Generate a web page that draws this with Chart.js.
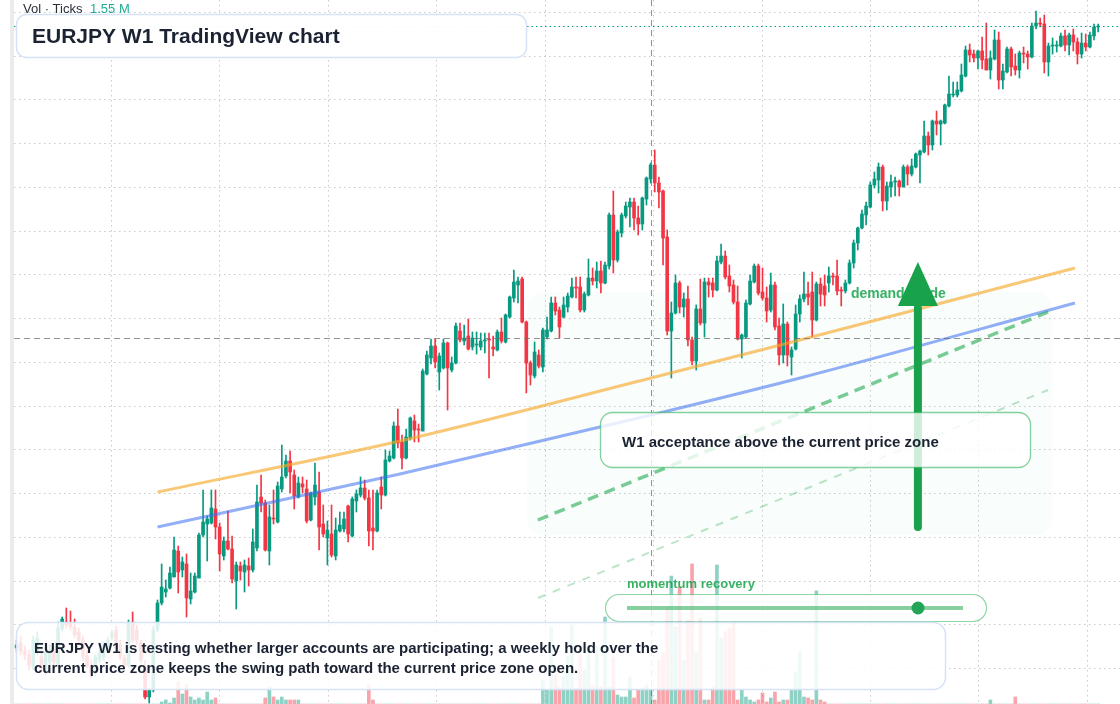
<!DOCTYPE html>
<html>
<head>
<meta charset="utf-8">
<title>EURJPY W1</title>
<script src="https://cdn.jsdelivr.net/npm/chart.js@4.4.1/dist/chart.umd.min.js"></script>
<style>
  html, body { margin: 0; padding: 0; background: #fff; }
  #wrap { width: 1120px; height: 704px; position: relative; }
</style>
</head>
<body>
<div id="wrap"><canvas id="chart" width="1120" height="704"></canvas></div>
<script>
// EURJPY weekly candles, one entry per week
const opens = [
  135.2,135.7,134.9,134.5,133.3,134.8,134.3,133.0,133.8,134.8,
  133.5,137.1,137.8,137.7,137.3,136.8,136.0,134.4,133.4,132.7,
  134.0,134.3,135.3,136.3,137.0,135.5,134.2,133.5,137.8,137.0,
  135.7,133.3,130.3,131.0,137.0,139.7,140.8,141.2,142.3,144.9,
  143.0,143.6,140.1,140.8,142.2,146.5,147.6,147.7,149.1,147.3,
  144.4,145.9,145.1,141.9,143.4,142.8,143.4,143.0,145.2,150.3,
  149.7,144.9,148.2,147.8,151.1,152.4,153.9,152.5,150.3,151.6,
  151.1,148.0,150.3,150.8,147.6,146.2,146.6,144.4,146.9,147.1,
  149.4,146.4,149.9,150.5,151.2,150.2,147.2,146.9,151.3,150.5,
  153.9,154.2,157.4,155.8,154.2,156.2,157.9,157.1,156.9,162.6,
  164.2,165.4,162.8,163.2,165.7,163.0,163.7,166.9,165.9,166.4,
  165.3,165.5,165.3,165.9,166.1,165.3,165.0,166.8,165.8,168.3,
  170.2,171.5,172.1,167.8,163.7,162.4,164.5,163.3,166.3,166.9,
  169.7,169.0,168.3,169.3,170.3,171.3,171.3,169.0,170.5,172.2,
  171.9,172.9,171.7,173.4,178.5,174.0,176.7,178.4,179.3,179.8,
  178.2,177.6,180.1,182.1,183.5,181.7,180.9,176.3,166.9,168.7,
  171.7,169.3,170.1,166.0,163.9,169.1,167.7,171.8,171.7,171.0,
  173.8,174.4,172.4,171.5,169.8,166.1,166.3,169.6,171.8,173.4,
  170.8,170.2,169.0,171.5,167.4,164.5,167.6,164.3,165.1,168.6,
  170.1,170.6,170.8,168.0,171.6,171.4,171.7,172.4,172.4,171.0,
  170.9,171.7,173.7,175.7,177.2,178.5,179.3,181.5,182.0,183.3,
  179.9,181.3,181.8,181.9,181.3,183.3,182.6,183.3,184.5,184.8,
  186.4,185.5,187.9,187.6,187.7,189.4,190.5,190.5,190.9,192.4,
  195.0,194.6,194.2,194.9,194.1,193.0,194.1,196.0,192.0,192.8,
  195.1,193.4,193.0,194.7,194.6,194.3,197.4,197.7,197.6,193.8,
  195.4,195.4,195.4,196.4,195.5,196.5,195.8,194.6,195.7,195.3,
  196.4,197.3
];
const highs = [
  136.0,136.4,135.4,135.0,136.4,136.8,135.0,135.2,135.5,135.2,
  137.8,138.3,139.2,138.9,138.1,137.2,136.4,135.0,134.0,134.5,
  135.0,135.8,136.3,137.0,137.4,136.0,134.5,138.0,138.8,137.5,
  136.0,134.0,131.2,137.4,140.0,143.6,142.0,143.3,146.3,145.4,
  144.3,144.6,142.7,142.7,146.7,151.0,148.4,151.0,151.0,147.7,
  146.3,148.9,146.4,143.8,143.8,144.0,144.2,147.1,151.5,152.5,
  150.0,149.5,151.0,151.8,155.5,154.5,154.9,153.0,152.3,152.3,
  152.0,150.8,153.7,152.8,149.5,147.9,149.5,148.2,148.8,148.8,
  149.5,150.3,151.0,152.3,152.0,151.0,151.0,151.0,152.3,155.0,
  154.9,157.8,159.1,156.5,157.1,158.3,158.5,157.6,163.1,164.9,
  166.1,166.1,164.7,166.1,165.8,164.3,167.7,167.7,167.5,168.1,
  166.8,166.8,166.7,166.7,166.7,166.4,167.0,168.2,168.6,170.4,
  173.0,172.3,172.3,167.9,163.9,165.8,165.0,167.2,168.3,170.3,
  170.3,169.3,170.3,170.7,172.2,172.3,172.3,170.8,174.1,173.2,
  173.8,173.9,173.8,178.7,180.9,177.0,178.7,179.8,180.2,180.2,
  179.4,180.3,182.3,183.7,185.0,182.3,181.0,177.0,169.8,172.5,
  171.9,170.7,171.4,166.3,169.5,172.1,172.2,172.2,172.2,174.4,
  175.6,174.9,173.5,172.0,171.4,166.6,170.0,172.5,173.6,173.6,
  173.2,171.3,172.7,171.8,168.2,169.6,167.8,165.3,169.5,170.5,
  172.8,171.8,172.8,171.8,172.2,172.5,173.3,172.7,174.0,171.3,
  172.0,174.0,176.0,177.3,179.0,179.8,181.8,182.8,183.7,183.5,
  181.8,182.5,182.3,182.0,183.5,183.5,184.1,184.7,185.0,187.9,
  186.8,188.0,188.9,188.0,189.6,192.4,191.8,191.8,193.6,195.4,
  195.6,195.0,195.0,196.3,197.7,194.9,197.0,196.8,193.6,195.3,
  195.3,194.6,194.9,195.3,194.9,197.7,198.9,198.2,198.5,195.7,
  196.2,195.9,196.7,197.0,196.7,197.1,196.2,196.7,196.6,196.8,
  197.6,197.6
];
const lows = [
  134.8,134.5,134.0,133.0,133.0,134.5,132.8,132.5,133.5,133.2,
  133.3,136.9,137.2,137.0,136.2,135.5,134.0,133.2,132.2,132.4,
  133.7,134.0,135.0,136.0,134.8,134.0,133.2,133.3,135.8,135.5,
  133.7,130.1,129.7,130.8,136.8,139.5,140.3,141.1,142.3,140.7,
  142.3,138.3,139.6,140.7,142.2,146.3,143.9,147.6,146.1,142.9,
  144.0,145.0,141.7,139.1,142.0,140.8,141.4,142.8,144.9,148.8,
  144.9,143.5,147.6,147.7,150.8,152.2,150.7,149.1,150.2,150.7,
  147.7,147.9,149.5,145.0,146.3,143.5,144.3,144.0,146.8,146.8,
  145.8,146.3,148.8,150.3,150.0,145.4,145.0,146.8,149.1,150.4,
  153.8,154.1,155.2,153.1,154.1,156.0,155.8,155.8,156.9,162.5,
  163.6,163.2,161.0,163.1,159.0,162.8,163.6,165.8,165.5,165.0,
  165.0,164.6,165.0,164.7,162.2,164.4,164.9,165.7,165.7,168.2,
  169.8,169.7,167.7,160.7,161.5,162.2,163.2,162.8,166.1,166.8,
  168.5,166.2,168.2,168.8,170.2,170.2,168.8,168.8,170.4,171.5,
  171.2,170.7,171.6,173.1,172.7,173.8,176.3,178.2,177.3,177.0,
  176.5,177.0,179.5,181.7,180.8,179.2,173.5,166.5,162.2,168.6,
  168.7,168.3,165.4,163.5,163.0,167.5,166.3,170.3,170.3,170.9,
  173.6,172.1,170.8,169.6,166.0,164.2,166.2,169.5,171.7,170.5,
  170.0,167.8,168.8,167.0,163.5,163.7,163.4,162.5,165.0,167.8,
  169.8,169.5,166.3,167.9,169.4,169.4,170.8,171.5,170.5,169.4,
  170.7,171.6,173.2,175.0,177.1,177.5,179.2,181.2,180.7,178.9,
  179.0,180.3,180.4,180.4,181.3,181.5,182.4,183.2,181.7,184.7,
  184.5,185.0,186.5,185.5,187.6,189.3,190.3,190.3,190.8,192.3,
  193.8,193.8,193.1,193.1,193.0,192.1,194.0,191.1,191.1,192.7,
  192.4,192.5,192.2,193.7,193.1,194.2,197.1,197.3,192.7,192.4,
  194.6,194.8,195.3,194.9,194.5,194.9,193.6,194.2,194.9,195.2,
  196.0,196.8
];
const closes = [
  135.5,134.9,134.5,133.5,136.0,136.2,133.2,134.8,135.0,133.8,
  137.2,138.1,137.5,137.3,136.5,136.0,134.4,133.4,132.7,134.3,
  134.7,135.5,136.0,136.7,135.2,134.3,133.5,137.7,136.0,136.0,
  134.0,130.3,131.0,137.0,139.7,141.3,141.1,142.7,145.0,142.8,
  143.8,140.2,140.9,142.4,146.5,147.8,148.1,149.2,147.3,144.6,
  145.9,145.1,142.1,143.5,142.9,143.5,143.0,145.8,149.8,149.7,
  145.0,148.3,148.1,151.4,152.3,153.9,152.8,150.4,151.7,151.3,
  147.9,150.7,151.5,147.3,146.6,147.0,144.5,147.0,147.5,148.1,
  146.6,150.1,150.6,151.2,150.2,146.9,146.9,150.7,150.5,154.0,
  154.4,157.4,155.7,154.2,156.3,158.2,157.0,157.0,162.9,164.5,
  165.4,163.8,164.4,165.7,163.2,163.7,167.4,166.0,166.2,165.1,
  166.2,165.6,165.9,166.0,166.0,165.1,166.8,165.9,168.5,170.3,
  171.8,171.9,167.8,163.7,162.5,164.8,163.4,167.0,167.0,169.7,
  168.9,167.3,169.5,170.4,171.3,171.2,169.0,170.6,172.2,171.9,
  172.9,171.7,173.5,178.5,174.0,176.8,178.5,179.4,179.8,178.2,
  177.6,180.2,182.2,183.5,181.7,180.8,176.2,166.9,168.7,171.7,
  169.3,170.1,166.0,163.9,169.1,167.7,171.8,171.5,171.0,173.9,
  174.4,172.3,171.4,169.8,166.1,166.5,169.7,171.9,173.4,170.7,
  170.2,168.9,171.5,167.3,164.5,167.6,164.5,165.0,168.6,170.1,
  170.6,170.3,168.0,171.6,170.6,170.5,172.4,172.3,170.9,170.9,
  171.7,173.7,175.7,177.2,178.6,179.4,181.5,182.1,183.3,179.9,
  181.4,181.8,181.9,181.3,183.3,182.6,183.4,184.6,184.9,186.4,
  185.5,187.9,187.6,187.9,189.5,190.6,190.6,191.0,192.5,195.0,
  194.5,194.2,194.9,194.0,193.0,194.2,196.0,192.0,192.9,195.1,
  193.3,193.0,194.7,194.6,194.3,197.4,197.7,197.6,193.8,195.4,
  195.5,195.5,196.4,195.5,196.5,195.8,194.6,195.7,195.3,196.5,
  197.3,197.4
];
// tick volume per week, thousands
const volumes = [
  0,0,0,0,0,0,0,0,0,0,
  0,0,0,0,0,0,0,0,0,0,
  0,0,0,0,0,0,0,0,0,0,
  0,0,0,0,0,10,20,5,30,110,
  50,100,35,20,30,20,60,20,30,0,
  0,0,0,0,0,0,0,0,0,0,
  30,85,35,20,35,20,20,20,20,0,
  0,0,0,0,0,0,0,0,0,0,
  0,0,0,0,0,95,20,0,0,0,
  0,0,0,0,0,0,0,0,0,0,
  0,0,0,0,0,0,0,0,0,0,
  0,0,0,0,0,0,0,0,0,0,
  0,0,0,0,0,0,0,120,70,385,
  145,85,135,235,395,80,245,170,285,95,
  285,85,435,85,235,45,35,35,135,30,
  70,80,95,70,20,220,255,485,640,385,
  585,220,420,700,260,430,20,20,85,695,
  330,360,380,410,20,70,35,20,10,20,
  55,10,30,60,10,20,20,70,160,260,
  35,30,20,565,20,10,0,0,0,0,
  0,0,0,0,0,0,0,0,0,0,
  0,0,0,0,0,0,0,0,0,0,
  0,0,0,0,0,0,0,0,0,0,
  0,0,0,0,0,20,0,0,0,0,
  0,35,0,0,0,0,0,0,0,0,
  0,0,0,0,0,0,0,0,0,0,
  0,0
];

// moving averages (week index, price)
const maWeeks = [34, 92.5, 153.1, 190, 255.4];
const maFast = [150.8, 155.9, 162.2, 166.1, 173.2];
const maSlow = [147.3, 152.6, 158.5, 162.3, 169.7];

// projected demand guide channel
const guideWeeks = [125.8, 248.9];
const guideUpper = [148.0, 168.8];
const guideLower = [140.2, 161.0];

// demand zone, crosshair, last price, arrow
const zoneWeeks = [123.2, 249.9];
const zonePrices = [146.5, 170.8];
const crossWeek = 153.1;
const crossPrice = 166.2;
const lastPrice = 197.4;
const arrowWeek = 217.5;
const arrowPrices = [147.3, 169.4, 173.8]; // tail, head base, tip

// grid
const gridWeeks = [22.8, 48.9, 75.1, 101.3, 127.4, 153.6, 179.8, 205.9, 232.1, 258.3];
const gridPrices = [198.8, 194.4, 190.1, 185.7, 181.3, 176.9, 172.6, 168.2, 163.8, 159.4, 155.1, 150.7, 146.3, 141.9, 137.6, 133.2];

const UP = '#089981';
const DOWN = '#f23645';
const weeks = closes.map((_, i) => i);
const candleColors = weeks.map(i => closes[i] >= opens[i] ? UP : DOWN);
const volumeColors = weeks.map(i => closes[i] >= opens[i] ? 'rgba(8,153,129,0.45)' : 'rgba(242,54,69,0.45)');

function roundBox(ctx, x, y, w, h, r, fill, stroke, lw) {
  ctx.beginPath();
  ctx.roundRect(x, y, w, h, r);
  ctx.fillStyle = fill;
  ctx.fill();
  ctx.lineWidth = lw;
  ctx.strokeStyle = stroke;
  ctx.stroke();
}

const decorations = {
  id: 'decorations',
  beforeDatasetsDraw(chart) {
    const { ctx, scales: { x, y } } = chart;
    ctx.save();
    ctx.fillStyle = '#ffffff';
    ctx.fillRect(0, 0, chart.width, chart.height);
    // left edge strip
    ctx.fillStyle = '#ebebeb';
    ctx.fillRect(10, 0, 4, chart.height);

    // dotted grid
    ctx.strokeStyle = 'rgba(150,150,150,0.5)';
    ctx.lineWidth = 1;
    ctx.setLineDash([1.5, 3.5]);
    gridPrices.forEach(p => {
      const py = Math.round(y.getPixelForValue(p)) + 0.5;
      ctx.beginPath(); ctx.moveTo(14, py); ctx.lineTo(chart.width, py); ctx.stroke();
    });
    gridWeeks.forEach(w => {
      const px = Math.round(x.getPixelForValue(w)) + 0.5;
      ctx.beginPath(); ctx.moveTo(px, 0); ctx.lineTo(px, chart.height); ctx.stroke();
    });
    ctx.setLineDash([]);

    // demand zone
    const zx0 = x.getPixelForValue(zoneWeeks[0]), zx1 = x.getPixelForValue(zoneWeeks[1]);
    const zy0 = y.getPixelForValue(zonePrices[1]), zy1 = y.getPixelForValue(zonePrices[0]);
    ctx.beginPath();
    ctx.roundRect(zx0, zy0, zx1 - zx0, zy1 - zy0, 16);
    ctx.fillStyle = 'rgba(34,197,94,0.026)';
    ctx.fill();
    ctx.restore();
  },
  afterDatasetsDraw(chart) {
    const { ctx, scales: { x, y } } = chart;
    ctx.save();

    // last price line
    const ly = Math.round(y.getPixelForValue(lastPrice)) + 0.5;
    ctx.strokeStyle = UP;
    ctx.lineWidth = 1;
    ctx.setLineDash([1.5, 3]);
    ctx.beginPath(); ctx.moveTo(14, ly); ctx.lineTo(chart.width, ly); ctx.stroke();

    // crosshair
    ctx.strokeStyle = 'rgba(110,110,110,0.75)';
    ctx.setLineDash([6, 4]);
    const cx = Math.round(x.getPixelForValue(crossWeek)) + 0.5;
    const cy = Math.round(y.getPixelForValue(crossPrice)) + 0.5;
    ctx.beginPath(); ctx.moveTo(cx, 0); ctx.lineTo(cx, chart.height); ctx.stroke();
    ctx.beginPath(); ctx.moveTo(14, cy); ctx.lineTo(chart.width, cy); ctx.stroke();
    ctx.setLineDash([]);

    // demand guide label
    ctx.font = 'bold 14px "Liberation Sans", Arial, sans-serif';
    ctx.fillStyle = 'rgba(22,163,74,0.85)';
    ctx.textBaseline = 'alphabetic';
    ctx.fillText('demand guide', 851, 298);

    // arrow
    const ax = x.getPixelForValue(arrowWeek);
    const aTail = y.getPixelForValue(arrowPrices[0]);
    const aBase = y.getPixelForValue(arrowPrices[1]);
    const aTip = y.getPixelForValue(arrowPrices[2]);
    ctx.strokeStyle = '#17a24b';
    ctx.fillStyle = '#17a24b';
    ctx.lineWidth = 8;
    ctx.lineCap = 'round';
    ctx.beginPath(); ctx.moveTo(ax, aTail); ctx.lineTo(ax, aBase + 2); ctx.stroke();
    ctx.beginPath();
    ctx.moveTo(ax - 20, aBase); ctx.lineTo(ax + 20, aBase); ctx.lineTo(ax, aTip);
    ctx.closePath(); ctx.fill();
    ctx.lineCap = 'butt';

    // callout box
    roundBox(ctx, 600.5, 412.5, 430, 55, 12, 'rgba(255,255,255,0.8)', 'rgba(34,170,80,0.55)', 1.3);
    ctx.fillStyle = '#1b2232';
    ctx.font = 'bold 15px "Liberation Sans", Arial, sans-serif';
    ctx.fillText('W1 acceptance above the current price zone', 622, 447);

    // momentum slider
    ctx.fillStyle = 'rgba(22,163,74,0.85)';
    ctx.font = 'bold 13px "Liberation Sans", Arial, sans-serif';
    ctx.fillText('momentum recovery', 627, 588);
    roundBox(ctx, 605.5, 594.5, 381, 27, 13.5, 'rgba(255,255,255,0.82)', 'rgba(34,170,80,0.5)', 1.2);
    ctx.strokeStyle = 'rgba(34,170,80,0.55)';
    ctx.lineWidth = 4;
    ctx.beginPath(); ctx.moveTo(627, 608); ctx.lineTo(963, 608); ctx.stroke();
    ctx.fillStyle = '#22a559';
    ctx.beginPath(); ctx.arc(918, 608, 6.5, 0, Math.PI * 2); ctx.fill();

    // bottom note
    roundBox(ctx, 16.5, 622.5, 929, 67, 12, 'rgba(255,255,255,0.86)', '#d6e3f6', 1.5);
    ctx.fillStyle = '#1b2232';
    ctx.font = 'bold 15px "Liberation Sans", Arial, sans-serif';
    ctx.fillText('EURJPY W1 is testing whether larger accounts are participating; a weekly hold over the', 34, 653);
    ctx.fillText('current price zone keeps the swing path toward the current price zone open.', 34, 673);

    // title
    roundBox(ctx, 16.5, 14.5, 510, 43, 10, 'rgba(255,255,255,0.94)', '#d6e3f6', 1.5);
    ctx.fillStyle = '#1b2232';
    ctx.font = 'bold 21px "Liberation Sans", Arial, sans-serif';
    ctx.fillText('EURJPY W1 TradingView chart', 32, 43);

    // volume legend
    ctx.font = '13px "Liberation Sans", Arial, sans-serif';
    ctx.fillStyle = '#2a2e39';
    ctx.fillText('Vol · Ticks', 23, 13);
    ctx.fillStyle = '#22ab94';
    ctx.fillText('1.55 M', 90, 13);
    ctx.restore();
  }
};

new Chart(document.getElementById('chart'), {
  type: 'bar',
  data: {
    datasets: [
      {
        type: 'line', label: 'MA fast',
        data: maWeeks.map((w, i) => ({ x: w, y: maFast[i] })),
        borderColor: 'rgba(245,166,35,0.62)', borderWidth: 3,
        pointRadius: 0, cubicInterpolationMode: 'monotone', order: 2
      },
      {
        type: 'line', label: 'MA slow',
        data: maWeeks.map((w, i) => ({ x: w, y: maSlow[i] })),
        borderColor: 'rgba(59,110,240,0.55)', borderWidth: 3,
        pointRadius: 0, cubicInterpolationMode: 'monotone', order: 2
      },
      {
        type: 'line', label: 'Guide upper',
        data: guideWeeks.map((w, i) => ({ x: w, y: guideUpper[i] })),
        borderColor: 'rgba(34,170,80,0.6)', borderWidth: 3.5, borderDash: [11, 7],
        pointRadius: 0, order: 1
      },
      {
        type: 'line', label: 'Guide lower',
        data: guideWeeks.map((w, i) => ({ x: w, y: guideLower[i] })),
        borderColor: 'rgba(34,170,80,0.3)', borderWidth: 2, borderDash: [8, 8],
        pointRadius: 0, order: 1
      },
      {
        type: 'bar', label: 'Bodies',
        data: weeks.map(i => ({ x: i, y: [opens[i], closes[i]] })),
        backgroundColor: candleColors, barThickness: 3, minBarLength: 1,
        grouped: false, order: 3
      },
      {
        type: 'bar', label: 'Wicks',
        data: weeks.map(i => ({ x: i, y: [lows[i], highs[i]] })),
        backgroundColor: candleColors, barThickness: 1,
        grouped: false, order: 4
      },
      {
        type: 'bar', label: 'Volume', yAxisID: 'yv',
        data: weeks.map(i => ({ x: i, y: volumes[i] })),
        backgroundColor: volumeColors, barThickness: 3,
        grouped: false, order: 5
      }
    ]
  },
  options: {
    responsive: false,
    animation: false,
    devicePixelRatio: 1,
    events: [],
    layout: { padding: 0 },
    plugins: { legend: { display: false }, tooltip: { enabled: false } },
    scales: {
      x: { type: 'linear', offset: false, min: -4.006, max: 266.27, display: false },
      y: { min: 129.6, max: 200, display: false },
      yv: { min: 0, max: 3520, display: false }
    }
  },
  plugins: [decorations]
});
</script>
</body>
</html>
